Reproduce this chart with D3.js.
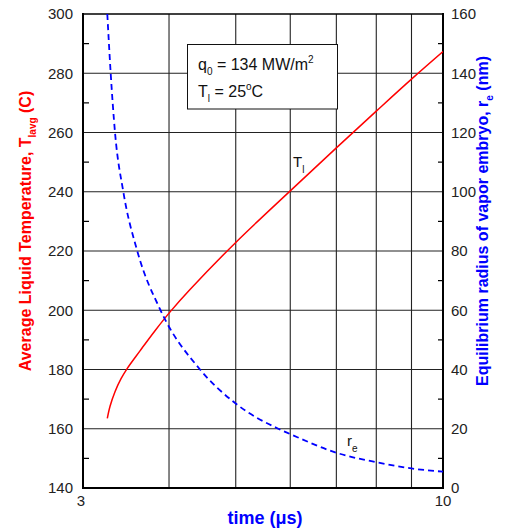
<!DOCTYPE html>
<html><head><meta charset="utf-8">
<script src="https://cdn.jsdelivr.net/npm/d3@7"></script>
<style>body{margin:0;background:#fff}svg{display:block;font-family:"Liberation Sans",Arial,sans-serif}</style>
</head><body>
<svg id="c" width="507" height="531"></svg>
<script>
const tempTime   = [3.254, 3.284, 3.339, 3.407, 3.479, 3.630, 3.817, 4.023, 4.291, 5, 6, 7, 8, 9, 10];
const tempValues = [163.5, 167.6, 172.5, 176.9, 180.4, 186.3, 193.1, 199.7, 207.0, 222.9, 240.3, 254.8, 267.2, 278.0, 287.3];
const radiusTime   = [3.254, 3.291, 3.339, 3.433, 3.597, 3.888, 4.437, 5, 5.764, 6, 7, 8, 9, 10];
const radiusValues = [160, 140, 120, 100, 80, 60, 40, 28.5, 20, 18.2, 11.9, 8.7, 6.6, 5.5];
const xGrid = [4, 5, 6, 7, 8, 9];
const xTickLabels = [3, 10];
const leftTicks = [140, 160, 180, 200, 220, 240, 260, 280, 300];
const rightTicks = [0, 20, 40, 60, 80, 100, 120, 140, 160];

const m = {l: 83, t: 14, w: 360, h: 474};
const svg = d3.select("#c");
const g = svg.append("g").attr("transform", `translate(${m.l},${m.t})`);
const x = d3.scaleLog().domain([3, 10]).range([0, m.w]);
const yL = d3.scaleLinear().domain([140, 300]).range([m.h, 0]);
const yR = d3.scaleLinear().domain([0, 160]).range([m.h, 0]);

// grid
g.selectAll(".gx").data(xGrid).enter().append("line")
  .attr("x1", d => x(d)).attr("x2", d => x(d)).attr("y1", 0).attr("y2", m.h)
  .attr("stroke", "#222").attr("stroke-width", 1.1);
g.selectAll(".gy").data(leftTicks.slice(1, -1)).enter().append("line")
  .attr("x1", 0).attr("x2", m.w).attr("y1", d => yL(d)).attr("y2", d => yL(d))
  .attr("stroke", "#222").attr("stroke-width", 1.1);

// minor ticks
const minorL = d3.range(150, 300, 20);
g.selectAll(".ml").data(minorL).enter().append("line")
  .attr("x1", 0).attr("x2", 6).attr("y1", d => yL(d)).attr("y2", d => yL(d))
  .attr("stroke", "#000").attr("stroke-width", 1.2);
const minorR = d3.range(10, 160, 20);
g.selectAll(".mr").data(minorR).enter().append("line")
  .attr("x1", m.w - 5).attr("x2", m.w).attr("y1", d => yR(d)).attr("y2", d => yR(d))
  .attr("stroke", "#000").attr("stroke-width", 1.2);

// frame
g.append("line").attr("x1", 0).attr("x2", m.w).attr("y1", 0).attr("y2", 0).attr("stroke", "#000").attr("stroke-width", 1.5);
g.append("line").attr("x1", 0).attr("x2", 0).attr("y1", -1).attr("y2", m.h + 1).attr("stroke", "#000").attr("stroke-width", 2);
g.append("line").attr("x1", m.w).attr("x2", m.w).attr("y1", -1).attr("y2", m.h + 1).attr("stroke", "#000").attr("stroke-width", 2);
g.append("line").attr("x1", -1).attr("x2", m.w + 1).attr("y1", m.h).attr("y2", m.h).attr("stroke", "#000").attr("stroke-width", 2);

// tick labels
g.selectAll(".tl").data(leftTicks).enter().append("text")
  .attr("x", -10).attr("y", d => yL(d)).attr("dy", "0.35em").attr("text-anchor", "end")
  .attr("font-size", 15).attr("fill", "#222").text(d => d);
g.selectAll(".tr").data(rightTicks).enter().append("text")
  .attr("x", m.w + 8).attr("y", d => yR(d)).attr("dy", "0.35em").attr("text-anchor", "start")
  .attr("font-size", 15).attr("fill", "#222").text(d => d);
g.selectAll(".tx").data(xTickLabels).enter().append("text")
  .attr("x", d => x(d) - (d === 3 ? 2 : 0)).attr("y", m.h + 18).attr("text-anchor", "middle")
  .attr("font-size", 15).attr("fill", "#222").text(d => d);

// curves
svg.append("defs").append("clipPath").attr("id", "pc").append("rect")
  .attr("width", m.w).attr("height", m.h);
const lineT = d3.line().x(d => x(d[0])).y(d => yL(d[1])).curve(d3.curveCatmullRom.alpha(0.5));
const lineR = d3.line().x(d => x(d[0])).y(d => yR(d[1])).curve(d3.curveMonotoneX);
g.append("path").datum(tempTime.map((t, i) => [t, tempValues[i]]))
  .attr("d", lineT).attr("fill", "none").attr("stroke", "#ff0000").attr("stroke-width", 1.5)
  .attr("clip-path", "url(#pc)");
g.append("path").datum(radiusTime.map((t, i) => [t, radiusValues[i]]))
  .attr("d", lineR).attr("fill", "none").attr("stroke", "#0000ff").attr("stroke-width", 1.8)
  .attr("stroke-dasharray", "6,4").attr("clip-path", "url(#pc)");

// curve labels
const tl = svg.append("text").attr("x", 293).attr("y", 167).attr("font-size", 15).attr("fill", "#111");
tl.append("tspan").text("T");
tl.append("tspan").attr("dy", 6).attr("font-size", 10).text("l");
const re = svg.append("text").attr("x", 347).attr("y", 446).attr("font-size", 15).attr("fill", "#111");
re.append("tspan").text("r");
re.append("tspan").attr("dy", 6).attr("font-size", 10).text("e");

// annotation box
svg.append("rect").attr("x", 187.5).attr("y", 44.5).attr("width", 150).attr("height", 64.5)
  .attr("fill", "#fff").attr("stroke", "#111").attr("stroke-width", 1);
const a1 = svg.append("text").attr("x", 198).attr("y", 70).attr("font-size", 16).attr("fill", "#111");
a1.append("tspan").text("q");
a1.append("tspan").attr("dy", 5).attr("font-size", 10).text("0");
a1.append("tspan").attr("dy", -5).text(" = 134 MW/m");
a1.append("tspan").attr("dy", -7).attr("font-size", 10).text("2");
const a2 = svg.append("text").attr("x", 198).attr("y", 97).attr("font-size", 16).attr("fill", "#111");
a2.append("tspan").text("T");
a2.append("tspan").attr("dy", 5).attr("font-size", 10).text("l");
a2.append("tspan").attr("dy", -5).text(" = 25");
a2.append("tspan").attr("dy", -7).attr("font-size", 10).text("o");
a2.append("tspan").attr("dy", 7).text("C");

// axis titles
const lt = svg.append("text").attr("transform", "translate(31,231) rotate(-90)").attr("text-anchor", "middle")
  .attr("font-size", 16).attr("font-weight", "bold").attr("fill", "#ff0000");
lt.append("tspan").text("Average Liquid Temperature, T");
lt.append("tspan").attr("dy", 5).attr("font-size", 10).text("lavg");
lt.append("tspan").attr("dy", -5).text(" (C)");
const rt = svg.append("text").attr("transform", "translate(488,221) rotate(-90)").attr("text-anchor", "middle")
  .attr("font-size", 16).attr("font-weight", "bold").attr("fill", "#0000ff");
rt.append("tspan").text("Equilibrium radius of vapor embryo, r");
rt.append("tspan").attr("dy", 5).attr("font-size", 10).text("e");
rt.append("tspan").attr("dy", -5).text(" (nm)");
svg.append("text").attr("x", 265).attr("y", 524).attr("text-anchor", "middle")
  .attr("font-size", 18).attr("font-weight", "bold").attr("fill", "#0000ff").text("time (\u03bcs)");
</script>
</body></html>
